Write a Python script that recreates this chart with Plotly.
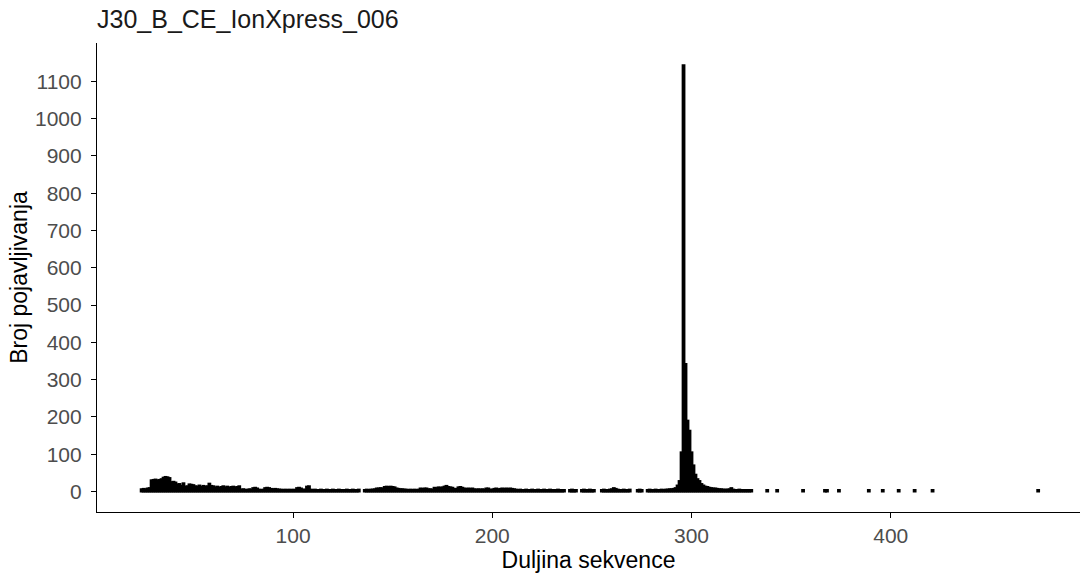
import plotly.graph_objects as go

lengths = [
    24, 25, 26, 27, 28, 29, 30, 31, 32, 33, 34, 35, 36, 37, 38, 39, 40, 41, 42, 43,
    44, 45, 46, 47, 48, 49, 50, 51, 52, 53, 54, 55, 56, 57, 58, 59, 60, 61, 62, 63,
    64, 65, 66, 67, 68, 69, 70, 71, 72, 73, 74, 75, 76, 77, 78, 79, 80, 81, 82, 83,
    84, 85, 86, 87, 88, 89, 90, 91, 92, 93, 94, 95, 96, 97, 98, 99, 100, 101, 102, 103,
    104, 105, 106, 107, 108, 109, 110, 111, 112, 113, 114, 115, 116, 117, 118, 119, 120, 121, 122, 123,
    124, 125, 126, 127, 128, 129, 130, 131, 132, 133, 136, 137, 138, 139, 140, 141, 142, 143, 144, 145,
    146, 147, 148, 149, 150, 151, 152, 153, 154, 155, 156, 157, 158, 159, 160, 161, 162, 163, 164, 165,
    166, 167, 168, 169, 170, 171, 172, 173, 174, 175, 176, 177, 178, 179, 180, 181, 182, 183, 184, 185,
    186, 187, 188, 189, 190, 191, 192, 193, 194, 195, 196, 197, 198, 199, 200, 201, 202, 203, 204, 205,
    206, 207, 208, 209, 210, 211, 212, 213, 214, 215, 216, 217, 218, 219, 220, 221, 222, 223, 224, 225,
    226, 227, 228, 229, 230, 231, 232, 233, 234, 235, 236, 239, 240, 241, 242, 245, 246, 247, 248, 249,
    250, 251, 255, 256, 257, 258, 259, 260, 261, 262, 263, 264, 265, 266, 267, 268, 269, 273, 274, 275,
    278, 279, 280, 281, 282, 283, 284, 285, 286, 287, 288, 289, 290, 291, 292, 293, 294, 295, 296, 297,
    298, 299, 300, 301, 302, 303, 304, 305, 306, 307, 308, 309, 310, 311, 312, 313, 314, 315, 316, 317,
    318, 319, 320, 321, 322, 323, 324, 325, 326, 327, 328, 329, 330,
    338, 343, 356, 367, 368, 374, 389, 396, 404, 412, 421, 474,
]

counts = [
    6, 7, 6, 8, 9, 30, 31, 32, 30, 31, 33, 37, 39, 38, 36, 25, 26, 24, 19, 20,
    15, 22, 13, 14, 19, 18, 17, 14, 13, 16, 12, 15, 13, 14, 21, 15, 14, 11, 13, 10,
    12, 14, 11, 13, 10, 12, 13, 11, 12, 14, 5, 6, 5, 4, 6, 5, 9, 10, 8, 5,
    4, 5, 9, 10, 9, 7, 6, 7, 6, 5, 5, 4, 5, 4, 5, 4, 5, 4, 9, 10,
    8, 5, 5, 13, 14, 5, 4, 5, 4, 4, 5, 4, 4, 5, 4, 4, 5, 4, 4, 5,
    4, 4, 4, 5, 4, 4, 5, 4, 4, 5, 4, 5, 4, 5, 5, 6, 8, 8, 9, 8,
    12, 13, 12, 13, 12, 11, 8, 7, 6, 6, 5, 5, 4, 5, 4, 5, 4, 5, 8, 7,
    8, 8, 6, 6, 5, 10, 9, 11, 10, 11, 13, 15, 12, 11, 10, 7, 7, 11, 12, 10,
    8, 7, 8, 7, 8, 6, 5, 6, 5, 6, 5, 8, 8, 5, 5, 7, 8, 6, 7, 8,
    7, 8, 7, 8, 7, 6, 5, 4, 5, 4, 4, 5, 4, 4, 5, 4, 4, 5, 4, 4,
    5, 4, 4, 5, 4, 4, 4, 5, 4, 4, 4, 4, 5, 4, 4, 4, 5, 4, 4, 5,
    4, 4, 4, 5, 4, 4, 5, 6, 9, 7, 5, 4, 4, 5, 4, 4, 5, 4, 5, 4,
    4, 5, 4, 4, 5, 4, 4, 5, 4, 5, 5, 6, 6, 7, 9, 16, 28, 105, 1143, 342,
    190, 163, 105, 70, 45, 33, 28, 20, 16, 13, 12, 10, 9, 8, 8, 7, 6, 6, 5, 5,
    5, 6, 9, 5, 4, 4, 5, 4, 4, 4, 4, 4, 4,
    4, 4, 4, 4, 4, 4, 4, 4, 4, 4, 4, 4,
]

x_ticks = [100, 200, 300, 400]
y_ticks = [0, 100, 200, 300, 400, 500, 600, 700, 800, 900, 1000, 1100]

title_text = "J30_B_CE_IonXpress_006"
x_title = "Duljina sekvence"
y_title = "Broj pojavljivanja"

fig = go.Figure(
    go.Bar(
        x=lengths,
        y=counts,
        width=0.9,
        marker=dict(color="black", line=dict(color="black", width=2)),
        hoverinfo="x+y",
    )
)

font_family = "Liberation Sans, Arial, sans-serif"

fig.update_layout(
    width=1081,
    height=575,
    margin=dict(l=97, r=1, t=43, b=63),
    paper_bgcolor="white",
    plot_bgcolor="white",
    showlegend=False,
    font=dict(family=font_family, color="black"),
    title=dict(
        text=title_text,
        x=97 / 1081,
        xanchor="left",
        y=1 - 19 / 575,
        yanchor="middle",
        font=dict(size=25, color="#1a1a1a", family=font_family),
    ),
    xaxis=dict(
        range=[1.6, 495],
        tickvals=x_ticks,
        ticktext=[str(v) for v in x_ticks],
        showgrid=False,
        zeroline=False,
        showline=True,
        linecolor="black",
        linewidth=1.2,
        ticks="outside",
        ticklen=5,
        tickwidth=1.2,
        tickcolor="black",
        tickfont=dict(size=21, color="#4d4d4d", family=font_family),
        title=dict(text=x_title, font=dict(size=23, color="black", family=font_family), standoff=4),
    ),
    yaxis=dict(
        range=[-55, 1203],
        tickvals=y_ticks,
        ticktext=[str(v) for v in y_ticks],
        showgrid=False,
        zeroline=False,
        showline=True,
        linecolor="black",
        linewidth=1.2,
        ticks="outside",
        ticklen=5,
        tickwidth=1.2,
        tickcolor="black",
        ticklabelstandoff=5,
        tickfont=dict(size=21, color="#4d4d4d", family=font_family),
        title=dict(text=y_title, font=dict(size=23, color="black", family=font_family), standoff=0),
    ),
)

fig.write_html("out.html")
